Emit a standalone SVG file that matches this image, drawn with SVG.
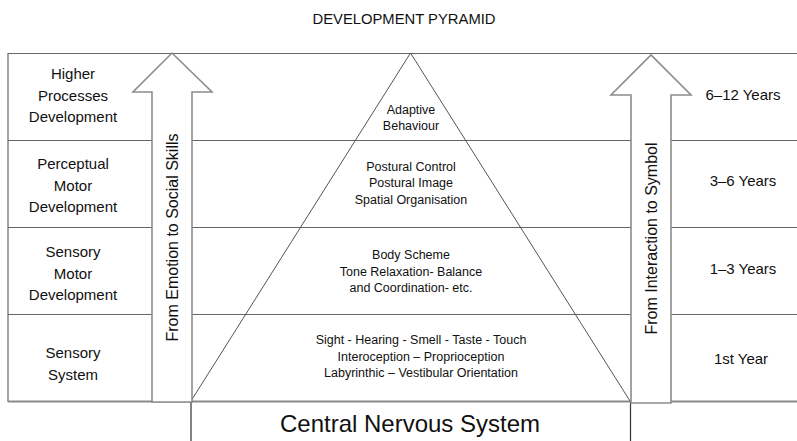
<svg xmlns="http://www.w3.org/2000/svg" width="797" height="441" viewBox="0 0 797 441">
<style>
text{font-family:"Liberation Sans",Arial,sans-serif;fill:#111;text-anchor:middle}
.t{font-size:14.8px}
.l{font-size:15px}
.y{font-size:15px}
.p{font-size:12.5px}
.r{font-size:16px}
.c{font-size:24px}
.grid{stroke:#666;stroke-width:1.2;fill:none}
.arr{fill:#fff;stroke:#8c8c8c;stroke-width:1.6}
.pyr{stroke:#555;stroke-width:1;fill:none}
.box{stroke:#333;stroke-width:1.2;fill:none}
</style>
<rect width="797" height="441" fill="#fff"/>
<text class="t" x="404" y="24">DEVELOPMENT PYRAMID</text>
<g id="connectors">
<path class="grid" d="M8,53.5H797M8,140.5H797M8,227.5H797M8,314.5H797M8,53V402"/>
<path d="M8,401.5H797" stroke="#8a8a8a" stroke-width="2.2"/>
<path class="pyr" d="M191,401L410.5,53L630,401"/>
</g>
<g id="cns">
<path class="box" d="M191,402V441M630.5,402V441"/>
<text class="c" x="410" y="432">Central Nervous System</text>
</g>
<g id="arrow-left">
<path class="arr" d="M152,402V92H133L172,53L212,92H192V402Z"/>
<text class="r" transform="translate(177.5,237.5) rotate(-90)">From Emotion to Social Skills</text>
</g>
<g id="arrow-right">
<path class="arr" d="M631,403V95H611L651,55L691,95H671V403Z"/>
<text class="r" transform="translate(657,238.5) rotate(-90)">From Interaction to Symbol</text>
</g>
<g id="row-higher">
<text class="l" x="73" y="79">Higher</text>
<text class="l" x="73" y="100.5">Processes</text>
<text class="l" x="73" y="122">Development</text>
<text class="p" x="411" y="114">Adaptive</text>
<text class="p" x="411" y="130">Behaviour</text>
<text class="y" x="743" y="100">6–12 Years</text>
</g>
<g id="row-perceptual">
<text class="l" x="73" y="169">Perceptual</text>
<text class="l" x="73" y="190.5">Motor</text>
<text class="l" x="73" y="212">Development</text>
<text class="p" x="411" y="171">Postural Control</text>
<text class="p" x="411" y="187">Postural Image</text>
<text class="p" x="411" y="203.5">Spatial Organisation</text>
<text class="y" x="743" y="186">3–6 Years</text>
</g>
<g id="row-sensory-motor">
<text class="l" x="73" y="257">Sensory</text>
<text class="l" x="73" y="278.5">Motor</text>
<text class="l" x="73" y="300">Development</text>
<text class="p" x="411" y="259">Body Scheme</text>
<text class="p" x="411" y="275.5">Tone Relaxation- Balance</text>
<text class="p" x="411" y="292">and Coordination- etc.</text>
<text class="y" x="743" y="274">1–3 Years</text>
</g>
<g id="row-sensory">
<text class="l" x="73" y="358">Sensory</text>
<text class="l" x="73" y="380">System</text>
<text class="p" x="421" y="344">Sight - Hearing - Smell - Taste - Touch</text>
<text class="p" x="421" y="360.5">Interoception – Proprioception</text>
<text class="p" x="421" y="377">Labyrinthic – Vestibular Orientation</text>
<text class="y" x="741" y="364">1st Year</text>
</g>
</svg>
